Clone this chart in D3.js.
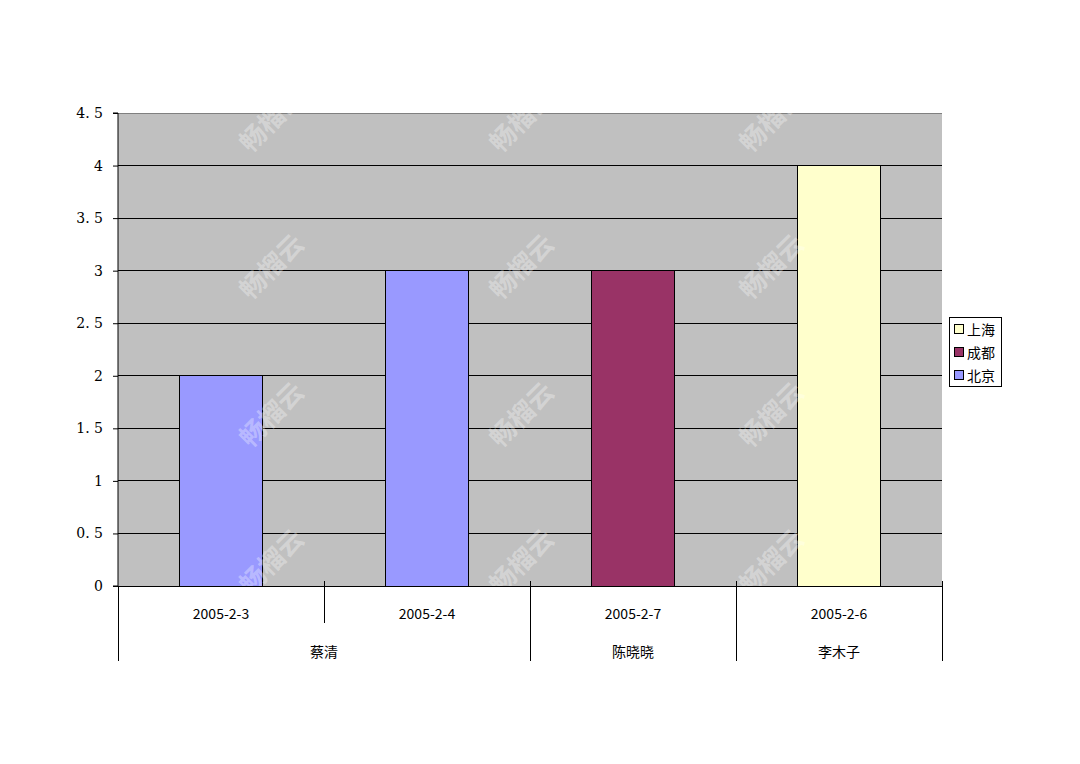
<!DOCTYPE html>
<html><head><meta charset="utf-8">
<script src="https://cdn.jsdelivr.net/npm/d3@7"></script>
<style>body{margin:0;background:#fff}svg{display:block}</style>
</head><body>
<script>
const dates = ["2005-2-3","2005-2-4","2005-2-7","2005-2-6"];
const people = [{name:"蔡清",span:2},{name:"陈晓晓",span:1},{name:"李木子",span:1}];
const seriesNames = ["上海","成都","北京"];
const seriesColors = ["#FFFFCC","#993366","#9999FF"];
const beijing = [2,3,null,null];
const chengdu = [null,null,3,null];
const shanghai = [null,null,null,4];
const yTicks = [0,0.5,1,1.5,2,2.5,3,3.5,4,4.5];
const yTickLabels = ["0","0. 5","1","1. 5","2","2. 5","3","3. 5","4","4. 5"];
const watermark = "畅榴云";

const W=1080,H=764;
const L=118,R=942,T=113,B=586;
const font = "'Noto Sans CJK SC', 'DejaVu Sans', sans-serif";
const svg = d3.select("body").append("svg").attr("width",W).attr("height",H);

const x = d3.scaleBand().domain(dates).range([L,R]).paddingInner(0).paddingOuter(0);
const y = d3.scaleLinear().domain([0,4.5]).range([B,T]);

svg.append("rect").attr("x",L).attr("y",T).attr("width",R-L).attr("height",B-T).attr("fill","#C0C0C0");

// gridlines
svg.append("g").selectAll("line").data(yTicks.filter(d=>d>0)).join("line")
  .attr("x1",L).attr("x2",R).attr("y1",d=>y(d)).attr("y2",d=>y(d))
  .attr("stroke",d=>d===4.5?"#808080":"#000").attr("stroke-width",1).attr("shape-rendering","crispEdges");

// bars
const series = [
  {name:"北京",vals:beijing,color:seriesColors[2]},
  {name:"成都",vals:chengdu,color:seriesColors[1]},
  {name:"上海",vals:shanghai,color:seriesColors[0]}
];
const bw = x.bandwidth()*0.4;
series.forEach(s=>{
  svg.append("g").selectAll("rect").data(dates.map((d,i)=>({d,v:s.vals[i]})).filter(o=>o.v!=null)).join("rect")
    .attr("x",o=>x(o.d)+x.bandwidth()/2-bw/2).attr("width",bw)
    .attr("y",o=>y(o.v)).attr("height",o=>y(0)-y(o.v))
    .attr("fill",s.color).attr("stroke","#000").attr("stroke-width",1).attr("shape-rendering","crispEdges");
});

// watermarks
const wmX=[270,520,770], wmY=[118,265,413,560];
const wm = svg.append("g");
wmX.forEach(cx=>wmY.forEach(cy=>{
  wm.append("text").attr("transform",`translate(${cx},${cy}) rotate(-45)`)
    .attr("text-anchor","middle").attr("dominant-baseline","central")
    .attr("font-family",font).attr("font-size",26).attr("font-weight","bold")
    .attr("fill","#ffffff").attr("fill-opacity",0.32).text(watermark);
}));

// y axis
const yAxis = d3.axisLeft(y).tickValues(yTicks).tickSize(5).tickPadding(10)
  .tickFormat((d,i)=>yTickLabels[i]);
const ya = svg.append("g").attr("transform",`translate(${L},0)`).call(yAxis);
ya.select(".domain").attr("stroke","#000").attr("d",`M-5,${T}H0V${B}H-5`);
ya.selectAll("line").attr("stroke","#000");
ya.selectAll("text").attr("font-family","'DejaVu Serif', serif").attr("font-size",14).attr("fill","#000");

// x axis line
svg.append("line").attr("x1",L).attr("x2",R).attr("y1",B).attr("y2",B).attr("stroke","#000").attr("shape-rendering","crispEdges");

// date labels
const xa = d3.axisBottom(x).tickSize(0).tickPadding(28);
const xg = svg.append("g").attr("transform",`translate(0,${B})`).call(xa);
xg.select(".domain").remove();
xg.selectAll("text").attr("font-family",font).attr("font-size",14).attr("fill","#000").attr("dy","0.35em");

// group boundaries
const bounds=[]; let idx=0;
bounds.push({x:L,full:true});
people.forEach((p,pi)=>{
  for(let k=1;k<p.span;k++){ bounds.push({x:x(dates[idx+k]),full:false}); }
  idx+=p.span;
  bounds.push({x: idx<dates.length?x(dates[idx]):R, full:true});
});
svg.append("g").selectAll("line").data(bounds).join("line")
  .attr("x1",d=>d.x).attr("x2",d=>d.x)
  .attr("y1",d=>d.x===L?B:B-5).attr("y2",d=>d.full?661:623)
  .attr("stroke","#000").attr("shape-rendering","crispEdges");

// people labels
idx=0;
people.forEach(p=>{
  const x0=x(dates[idx]); const x1=x(dates[idx+p.span-1])+x.bandwidth();
  svg.append("text").attr("x",(x0+x1)/2).attr("y",651).attr("text-anchor","middle")
    .attr("dominant-baseline","central").attr("font-family",font).attr("font-size",14).text(p.name);
  idx+=p.span;
});

// legend
const lg = svg.append("g").attr("transform","translate(949,317)");
lg.append("rect").attr("width",52).attr("height",69).attr("fill","#fff").attr("stroke","#000").attr("shape-rendering","crispEdges");
seriesNames.forEach((n,i)=>{
  const gy = 12+i*23;
  lg.append("rect").attr("x",5).attr("y",gy-4.5).attr("width",9).attr("height",9)
    .attr("fill",seriesColors[i]).attr("stroke","#000").attr("shape-rendering","crispEdges");
  lg.append("text").attr("x",18).attr("y",gy).attr("dominant-baseline","central")
    .attr("font-family",font).attr("font-size",14).text(n);
});
</script>
</body></html>
